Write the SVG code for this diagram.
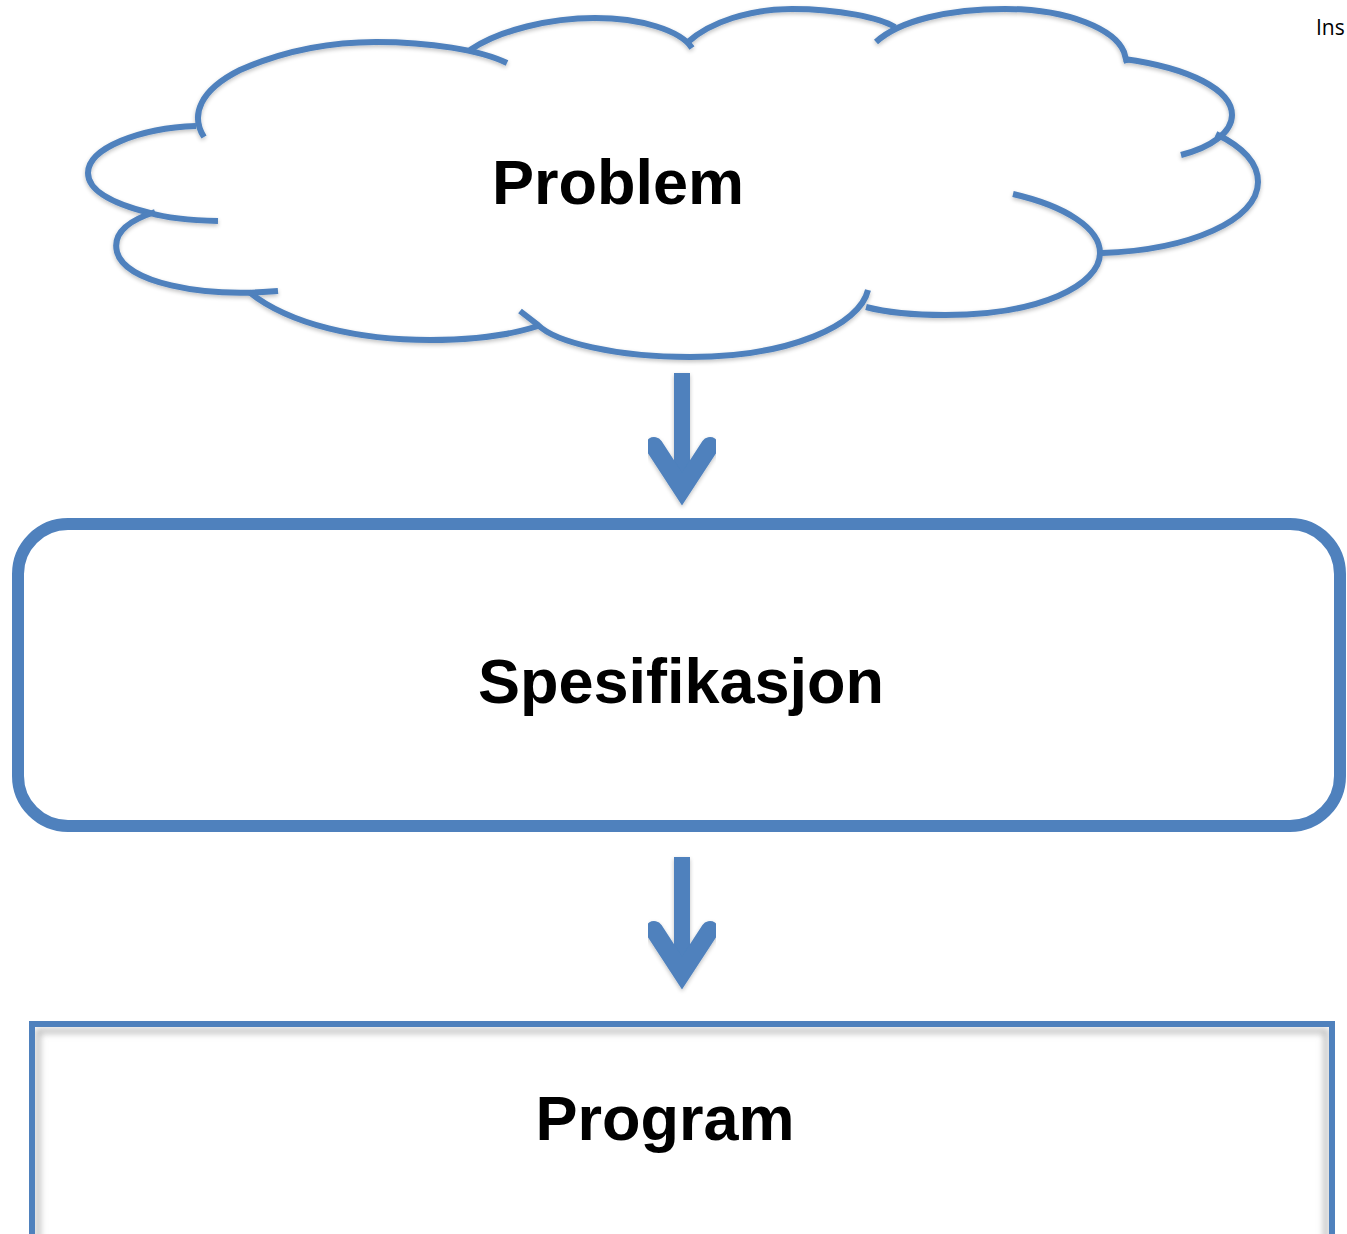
<svg xmlns="http://www.w3.org/2000/svg" width="1347" height="1234" viewBox="0 0 1347 1234">
<style>
.ln{fill:none;stroke:#4F81BD;stroke-width:6;stroke-linecap:butt}
.lbl{font-family:"Liberation Sans",Arial,sans-serif;font-weight:bold;font-size:63px;fill:#000;text-anchor:middle}
.shaft{fill:none;stroke:#4F81BD;stroke-width:16}
.head{fill:none;stroke:#4F81BD;stroke-width:18;stroke-linecap:round;stroke-linejoin:miter;stroke-miterlimit:6}
</style>
<defs>
<filter id="sh" x="-10%" y="-10%" width="120%" height="130%">
<feGaussianBlur in="SourceAlpha" stdDeviation="2"/>
<feOffset dx="0" dy="2" result="b"/>
<feComponentTransfer><feFuncA type="linear" slope="0.25"/></feComponentTransfer>
<feMerge><feMergeNode/><feMergeNode in="SourceGraphic"/></feMerge>
</filter>
<filter id="blur"><feGaussianBlur stdDeviation="3"/></filter>
<clipPath id="pc"><rect x="35" y="1027" width="1294" height="220"/></clipPath>
</defs>
<rect width="1347" height="1234" fill="#fff"/>
<text x="1316" y="35" font-family="'Open Sans','Liberation Sans',sans-serif" font-size="21" fill="#000">Ins</text>

<g id="problem">
<g filter="url(#sh)">
<path class="ln" d="M218,221 C180,220 160,216 150,213 C110,203 88,190 88,173 C88,148 140,128 196,126"/>
<path class="ln" d="M204,137 C190,115 200,90 240,70 C290,48 340,42 376,42 C430,42 480,50 507,63"/>
<path class="ln" d="M470,50 C500,30 550,18 595,18 C640,18 680,30 692,48"/>
<path class="ln" d="M688,42 C710,22 750,9 792,9 C840,9 880,18 895,27"/>
<path class="ln" d="M876,42 C900,20 950,9 1005,9 C1070,9 1115,30 1124,52 L1127,63"/>
<path class="ln" d="M1124,59 C1190,68 1232,90 1232,115 C1232,132 1212,147 1181,155"/>
<path class="ln" d="M1216,134 C1245,148 1258,165 1258,182 C1258,220 1190,250 1102,253"/>
<path class="ln" d="M1013,194 C1065,206 1100,228 1100,253 C1100,285 1040,315 945,315 C910,315 885,312 866,307"/>
<path class="ln" d="M868,290 C860,325 790,357 690,357 C615,357 555,342 538,325 L520,311"/>
<path class="ln" d="M249,292 C290,325 360,340 430,340 C475,340 510,335 538,326"/>
<path class="ln" d="M278,291 C200,298 125,282 117,252 C112,232 130,220 155,212"/>
</g>
<text class="lbl" x="618" y="204" textLength="252">Problem</text>
</g>

<g id="connectors" filter="url(#sh)">
<line class="shaft" x1="682" y1="373" x2="682" y2="488"/>
<path class="head" d="M654,446 L682,489 L710,446"/>
<line class="shaft" x1="682" y1="857" x2="682" y2="972"/>
<path class="head" d="M654,930 L682,973 L710,930"/>
</g>

<g id="spesifikasjon">
<rect x="18" y="524" width="1322" height="302" rx="50" ry="50" fill="#fff" stroke="#4F81BD" stroke-width="12"/>
<text class="lbl" x="681" y="703">Spesifikasjon</text>
</g>

<g id="program">
<rect x="32" y="1024" width="1300" height="230" fill="#fff" stroke="#4F81BD" stroke-width="6"/>
<g clip-path="url(#pc)"><rect x="38" y="1031" width="1288" height="230" fill="none" stroke="#bbb" stroke-width="5" filter="url(#blur)"/></g>
<text class="lbl" x="665" y="1140">Program</text>
</g>
</svg>
